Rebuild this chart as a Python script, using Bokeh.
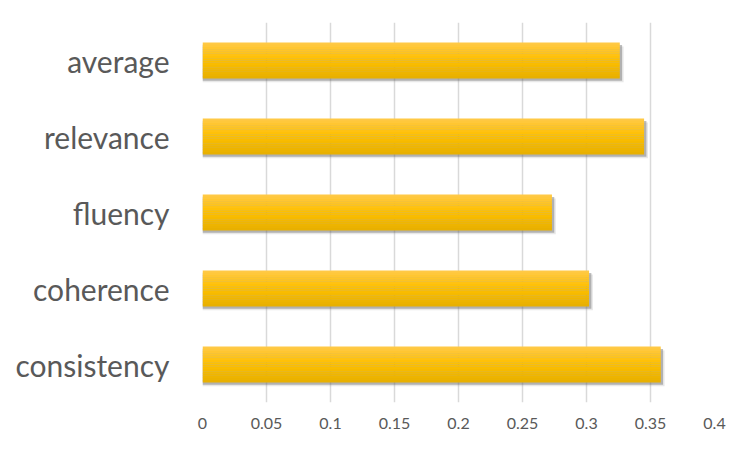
from bokeh.plotting import figure
from bokeh.models import FactorRange, FixedTicker, ColumnDataSource
from bokeh.transform import dodge
from bokeh.embed import file_html
from bokeh.resources import INLINE

categories = ["consistency", "coherence", "fluency", "relevance", "average"]
scores = [0.358, 0.302, 0.273, 0.345, 0.326]
tick_values = [0, 0.05, 0.1, 0.15, 0.2, 0.25, 0.3, 0.35, 0.4]
tick_labels = ["0", "0.05", "0.1", "0.15", "0.2", "0.25", "0.3", "0.35", "0.4"]

src = ColumnDataSource(dict(cat=categories, val=scores))

p = figure(width=750, height=449, output_backend="svg", toolbar_location=None,
           y_range=FactorRange(factors=categories, range_padding=0),
           x_range=(0, 0.4), min_border_left=202, min_border_right=36,
           min_border_top=22, min_border_bottom=47)
p.outline_line_color = None
p.background_fill_color = "white"
p.border_fill_color = "white"

BAR_H = 0.47

# shadow
p.hbar(y=dodge("cat", -0.05, range=p.y_range), left=0,
       right=dodge("val", 0.003, range=p.x_range), height=BAR_H,
       source=src, fill_color="#808080", fill_alpha=0.18, line_color=None)
p.hbar(y=dodge("cat", -0.03, range=p.y_range), left=0,
       right=dodge("val", 0.0018, range=p.x_range), height=BAR_H,
       source=src, fill_color="#606060", fill_alpha=0.4, line_color=None)


def lerp(c1, c2, t):
    a = [int(c1[i:i + 2], 16) for i in (1, 3, 5)]
    b = [int(c2[i:i + 2], 16) for i in (1, 3, 5)]
    return "#%02x%02x%02x" % tuple(round(a[k] + (b[k] - a[k]) * t) for k in range(3))

top_c, mid_c, bot_c = "#FFC945", "#FFC000", "#E8B000"
N = 16
band = BAR_H / N
for i in range(N):
    t = i / (N - 1)
    if t < 0.45:
        col = lerp(top_c, mid_c, t / 0.45)
    else:
        col = lerp(mid_c, bot_c, (t - 0.45) / 0.55)
    off = BAR_H / 2 - band * (i + 0.5)
    p.hbar(y=dodge("cat", off, range=p.y_range), left=0, right="val",
           height=band * 1.05, source=src, fill_color=col, line_color=None)

p.xaxis.ticker = FixedTicker(ticks=tick_values)
p.xaxis.major_label_overrides = {v: l for v, l in zip(tick_values, tick_labels)}
p.xaxis.axis_line_color = None
p.xaxis.major_tick_line_color = None
p.xaxis.minor_tick_line_color = None
p.xaxis.major_label_text_font = "Lato"
p.xaxis.major_label_text_font_size = "16px"
p.xaxis.major_label_text_color = "#595959"
p.xaxis.major_label_standoff = 9

p.yaxis.axis_line_color = None
p.yaxis.major_tick_line_color = None
p.yaxis.minor_tick_line_color = None
p.yaxis.major_label_text_font = "Lato"
p.yaxis.major_label_text_font_size = "30px"
p.yaxis.major_label_text_color = "#595959"
p.yaxis.major_label_standoff = 27

p.xgrid.grid_line_color = "#D9D9D9"
p.xgrid.grid_line_width = 1.5
p.ygrid.grid_line_color = None
p.xgrid.level = "underlay"

open("out.html", "w").write(file_html(p, INLINE))
